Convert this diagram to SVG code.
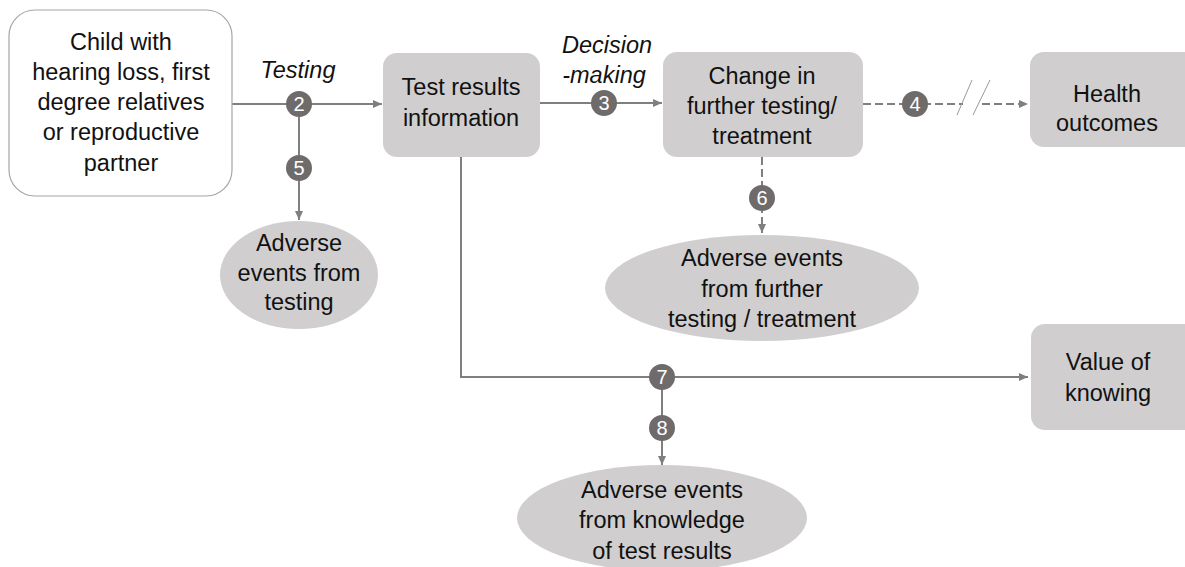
<svg xmlns="http://www.w3.org/2000/svg" width="1185" height="567" viewBox="0 0 1185 567">
<defs>
<marker id="ah" markerWidth="10" markerHeight="10" refX="9" refY="5" orient="auto" markerUnits="userSpaceOnUse"><path d="M0,1 L9,5 L0,9 Z" fill="#7f7f7f"/></marker>
<style>
.box{fill:#d0cece;}
.t{font-family:"Liberation Sans",Arial,sans-serif;font-size:23.5px;fill:#111;text-anchor:middle;}
.it{font-style:italic;}
.ln{stroke:#7f7f7f;stroke-width:2;fill:none;}
.dash{stroke-dasharray:8,4;}
.c{fill:#6f6b6b;}
.n{font-family:"Liberation Sans",Arial,sans-serif;font-size:20px;fill:#fff;text-anchor:middle;}
</style>
</defs>
<rect width="1185" height="567" fill="#fff"/>
<g id="connectors">
<line class="ln" x1="232" y1="104" x2="382" y2="104" marker-end="url(#ah)"/>
<line class="ln" x1="299" y1="104" x2="299" y2="220" marker-end="url(#ah)"/>
<line class="ln" x1="540" y1="103" x2="662" y2="103" marker-end="url(#ah)"/>
<line class="ln dash" x1="863" y1="104" x2="963" y2="104"/>
<line class="ln dash" x1="982" y1="104" x2="1028" y2="104" marker-end="url(#ah)"/>
<line stroke="#999" stroke-width="1" x1="957" y1="115" x2="972" y2="80"/>
<line stroke="#999" stroke-width="1" x1="973" y1="115" x2="990" y2="80"/>
<line class="ln dash" x1="762" y1="157" x2="762" y2="233" marker-end="url(#ah)"/>
<polyline class="ln" points="461,157 461,377 1028,377" marker-end="url(#ah)"/>
<line class="ln" x1="662" y1="377" x2="662" y2="465" marker-end="url(#ah)"/>
<g id="markers">
<circle class="c" cx="299" cy="104" r="13"/><text class="n" x="299" y="111">2</text>
<circle class="c" cx="299" cy="168" r="13"/><text class="n" x="299" y="175">5</text>
<circle class="c" cx="604" cy="103" r="13"/><text class="n" x="604" y="110">3</text>
<circle class="c" cx="915" cy="104" r="13"/><text class="n" x="915" y="111">4</text>
<circle class="c" cx="762" cy="198" r="13"/><text class="n" x="762" y="205">6</text>
<circle class="c" cx="662" cy="377" r="13"/><text class="n" x="662" y="384">7</text>
<circle class="c" cx="662" cy="428" r="13"/><text class="n" x="662" y="435">8</text>
</g>
<text class="t it" x="298" y="78">Testing</text>
<text class="t it" x="607" y="53">Decision</text>
<text class="t it" x="604" y="83">-making</text>
</g>
<g id="child">
<rect x="9" y="10" width="223" height="186" rx="26" fill="#fff" stroke="#a6a6a6" stroke-width="1.2"/>
<text class="t" x="121" y="50">Child with</text>
<text class="t" x="121" y="80">hearing loss, first</text>
<text class="t" x="121" y="110">degree relatives</text>
<text class="t" x="121" y="140">or reproductive</text>
<text class="t" x="121" y="171">partner</text>
</g>
<g id="testresults">
<rect class="box" x="383" y="53" width="157" height="104" rx="14"/>
<text class="t" x="461" y="95">Test results</text>
<text class="t" x="461" y="126">information</text>
</g>
<g id="change">
<rect class="box" x="663" y="52" width="200" height="105" rx="14"/>
<text class="t" x="762" y="84">Change in</text>
<text class="t" x="762" y="114">further testing/</text>
<text class="t" x="762" y="144">treatment</text>
</g>
<g id="health">
<rect class="box" x="1030" y="52" width="170" height="95" rx="14"/>
<text class="t" x="1107" y="102">Health</text>
<text class="t" x="1107" y="131">outcomes</text>
</g>
<g id="value">
<rect class="box" x="1031" y="324" width="170" height="106" rx="14"/>
<text class="t" x="1108" y="370">Value of</text>
<text class="t" x="1108" y="401">knowing</text>
</g>
<g id="ae-testing">
<ellipse class="box" cx="299" cy="275" rx="79" ry="54"/>
<text class="t" x="299" y="251">Adverse</text>
<text class="t" x="299" y="281">events from</text>
<text class="t" x="299" y="310">testing</text>
</g>
<g id="ae-further">
<ellipse class="box" cx="762" cy="288" rx="157" ry="53"/>
<text class="t" x="762" y="266">Adverse events</text>
<text class="t" x="762" y="297">from further</text>
<text class="t" x="762" y="327">testing / treatment</text>
</g>
<g id="ae-knowledge">
<ellipse class="box" cx="662" cy="518" rx="145" ry="53"/>
<text class="t" x="662" y="498">Adverse events</text>
<text class="t" x="662" y="528">from knowledge</text>
<text class="t" x="662" y="559">of test results</text>
</g>
</svg>
